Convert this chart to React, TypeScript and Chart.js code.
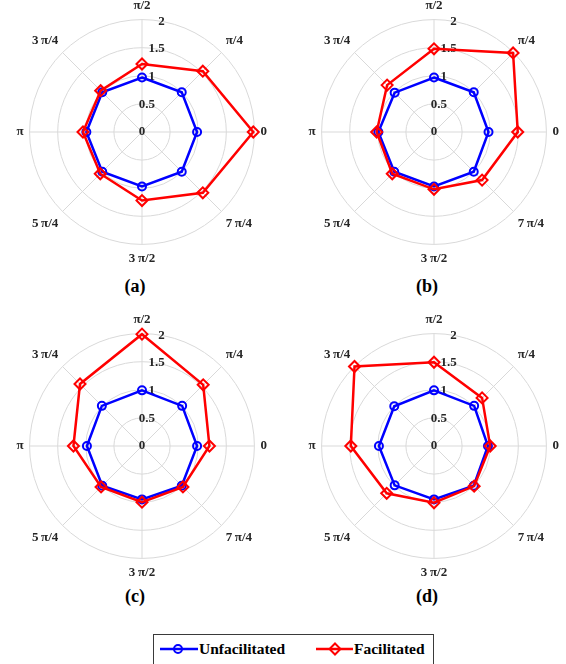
import React, { useEffect, useRef } from 'react';
import { Chart, registerables } from 'chart.js';

Chart.register(...registerables);

// Angle labels in natural (counter-clockwise from 0) order
const angleLabels = ['0', 'π/4', 'π/2', '3\u2009π/4', 'π', '5\u2009π/4', '3\u2009π/2', '7\u2009π/4'];
// Chart.js radar goes clockwise starting at the top: π/2, π/4, 0, 7π/4, 3π/2, 5π/4, π, 3π/4
const chartOrder = [2, 1, 0, 7, 6, 5, 4, 3];

const radialTicks = [0, 0.5, 1, 1.5, 2];
const seriesNames = ['Unfacilitated', 'Facilitated'];
const panelCaptions = ['(a)', '(b)', '(c)', '(d)'];

// values at 0, π/4, π/2, 3π/4, π, 5π/4, 3π/2, 7π/4
const unfacA = [0.98, 1.0, 0.97, 1.0, 0.99, 1.0, 0.97, 1.0];
const facA = [1.98, 1.53, 1.21, 1.04, 1.05, 1.05, 1.22, 1.53];
const unfacB = [0.97, 1.0, 0.97, 0.99, 0.99, 1.0, 0.97, 1.0];
const facB = [1.49, 1.99, 1.48, 1.18, 1.02, 1.05, 1.02, 1.21];
const unfacC = [0.98, 1.01, 0.99, 1.01, 0.98, 1.0, 0.95, 1.0];
const facC = [1.2, 1.54, 1.99, 1.56, 1.22, 1.03, 1.0, 1.03];
const unfacD = [0.96, 1.01, 0.99, 1.0, 0.98, 0.99, 0.95, 1.0];
const facD = [1.0, 1.21, 1.49, 2.0, 1.48, 1.19, 1.01, 1.01];

const SERIF = '"Liberation Serif", "Times New Roman", serif';
const TEXT = '#262626';
const GRID = '#d9d9d9';

const tickLabelPlugin = {
  id: 'rTickLabels',
  beforeDatasetsDraw(chart: any) {
    const s: any = chart.scales.r;
    const ctx = chart.ctx;
    ctx.save();
    ctx.font = `bold 13px ${SERIF}`;
    ctx.fillStyle = TEXT;
    ctx.textAlign = 'center';
    ctx.textBaseline = 'middle';
    const a = (80 * Math.PI) / 180;
    radialTicks.forEach((v) => {
      const d = s.getDistanceFromCenterForValue(v);
      ctx.fillText(String(v), s.xCenter + d * Math.cos(a), s.yCenter - d * Math.sin(a));
    });
    ctx.restore();
  },
};

function Panel({ unfac, fac, left, top }: { unfac: number[]; fac: number[]; left: number; top: number }) {
  const ref = useRef<HTMLCanvasElement>(null);
  useEffect(() => {
    const chart = new Chart(ref.current as HTMLCanvasElement, {
      type: 'radar',
      data: {
        labels: chartOrder.map((i) => angleLabels[i]),
        datasets: [
          {
            label: seriesNames[1],
            data: chartOrder.map((i) => fac[i]),
            borderColor: '#ff0000',
            backgroundColor: 'rgba(0,0,0,0)',
            borderWidth: 2.5,
            pointStyle: 'rectRot',
            pointRadius: 5.5,
            pointBorderWidth: 2,
            pointBorderColor: '#ff0000',
            pointBackgroundColor: 'rgba(0,0,0,0)',
            fill: false,
            order: 0,
          },
          {
            label: seriesNames[0],
            data: chartOrder.map((i) => unfac[i]),
            borderColor: '#0000ff',
            backgroundColor: 'rgba(0,0,0,0)',
            borderWidth: 2.5,
            pointStyle: 'circle',
            pointRadius: 4,
            pointBorderWidth: 2,
            pointBorderColor: '#0000ff',
            pointBackgroundColor: 'rgba(0,0,0,0)',
            fill: false,
            order: 1,
          },
        ],
      } as any,
      options: {
        responsive: false,
        animation: false,
        devicePixelRatio: 1,
        layout: { padding: 0 },
        plugins: { legend: { display: false }, tooltip: { enabled: false } },
        elements: { line: { tension: 0 } },
        scales: {
          r: {
            min: 0,
            max: 2,
            startAngle: 0,
            ticks: { display: false, stepSize: 0.5 },
            grid: { circular: true, color: GRID, lineWidth: 1 },
            angleLines: { color: GRID, lineWidth: 1 },
            pointLabels: {
              font: { family: SERIF, size: 13, weight: 'bold' },
              color: TEXT,
              padding: 6,
            },
          },
        },
      } as any,
      plugins: [tickLabelPlugin],
    });
    return () => chart.destroy();
  }, []);
  return (
    <canvas
      ref={ref}
      width={284}
      height={268}
      style={{ position: 'absolute', left, top, width: 284, height: 268 }}
    />
  );
}

function Caption({ text, cx, top }: { text: string; cx: number; top: number }) {
  return (
    <div
      style={{
        position: 'absolute',
        left: cx - 30,
        top,
        width: 60,
        textAlign: 'center',
        font: `bold 18px ${SERIF}`,
        lineHeight: '18px',
        color: '#000',
      }}
    >
      {text}
    </div>
  );
}

export default function App() {
  useEffect(() => {
    document.body.style.margin = '0';
  }, []);
  const legendText: React.CSSProperties = {
    position: 'absolute',
    top: 641,
    font: `bold 15.5px ${SERIF}`,
    lineHeight: '15.5px',
    color: '#000',
    whiteSpace: 'nowrap',
  };
  return (
    <div
      style={{
        position: 'absolute',
        left: 0,
        top: 0,
        width: 566,
        height: 664,
        overflow: 'hidden',
        background: '#fff',
      }}
    >
      <Panel unfac={unfacA} fac={facA} left={0} top={-1} />
      <Panel unfac={unfacB} fac={facB} left={292} top={-1} />
      <Panel unfac={unfacC} fac={facC} left={0} top={313} />
      <Panel unfac={unfacD} fac={facD} left={292} top={313} />
      <Caption text={panelCaptions[0]} cx={135} top={277} />
      <Caption text={panelCaptions[1]} cx={427} top={277} />
      <Caption text={panelCaptions[2]} cx={135} top={587} />
      <Caption text={panelCaptions[3]} cx={427} top={587} />
      <div
        style={{
          position: 'absolute',
          left: 153,
          top: 634,
          width: 281,
          height: 40,
          border: '1px solid #3a3a3a',
          boxSizing: 'border-box',
          background: '#fff',
        }}
      />
      <svg
        width={280}
        height={30}
        style={{ position: 'absolute', left: 153, top: 634 }}
      >
        <line x1={7} y1={15} x2={45} y2={15} stroke="#0000ff" strokeWidth={2.5} />
        <circle cx={25} cy={15} r={4} stroke="#0000ff" strokeWidth={2} fill="none" />
        <line x1={163} y1={15} x2={200} y2={15} stroke="#ff0000" strokeWidth={2.5} />
        <polygon points="182,9.5 187.5,15 182,20.5 176.5,15" stroke="#ff0000" strokeWidth={2} fill="none" />
      </svg>
      <span style={{ ...legendText, left: 199 }}>{seriesNames[0]}</span>
      <span style={{ ...legendText, left: 354 }}>{seriesNames[1]}</span>
    </div>
  );
}
